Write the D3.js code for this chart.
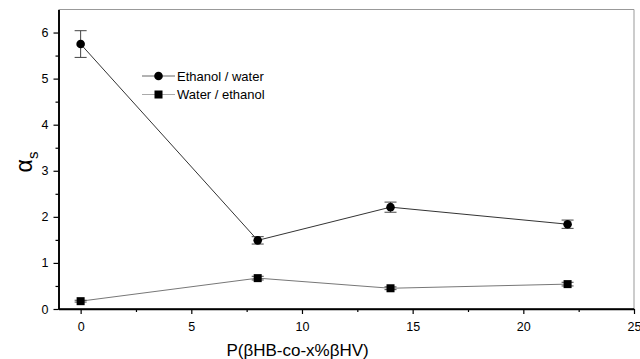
<!DOCTYPE html>
<html><head><meta charset="utf-8">
<script src="https://cdn.jsdelivr.net/npm/d3@7"></script>
<style>body{margin:0;background:#fff}svg{display:block}text{font-family:"Liberation Sans",Arial,sans-serif}</style>
</head><body>
<svg id="c" width="640" height="359"></svg>
<script>
const xValues = [0, 8, 14, 22];
const ethanolWater = [5.75, 1.49, 2.21, 1.84];
const ethanolWaterErr = [0.29, 0.08, 0.11, 0.09];
const waterEthanol = [0.17, 0.67, 0.45, 0.54];
const waterEthanolErr = [0.02, 0.04, 0.03, 0.04];
const xTicks = [0, 5, 10, 15, 20, 25];
const yTicks = [0, 1, 2, 3, 4, 5, 6];
const seriesNames = ["Ethanol / water", "Water / ethanol"];

const svg = d3.select("#c");
const x = d3.scaleLinear().domain([-1, 25]).range([58.5, 634]);
const y = d3.scaleLinear().domain([0, 6.5]).range([309, 9.5]);

// frame (top and right)
svg.append("path").attr("d", `M${x(-1)},${y(6.5)}H${x(25)}V${y(0)}`)
  .attr("fill", "none").attr("stroke", "#999").attr("stroke-width", 1);

// x axis
const xAx = svg.append("g").attr("transform", `translate(0,${y(0)})`)
  .call(d3.axisBottom(x).tickValues(xTicks).tickFormat(d3.format("d")).tickSize(5).tickPadding(8).tickSizeOuter(0));
const xMinor = svg.append("g").attr("transform", `translate(0,${y(0)})`)
  .call(d3.axisBottom(x).tickValues(d3.range(2.5, 25, 5)).tickSize(3).tickFormat("").tickSizeOuter(0));
// y axis
const yAx = svg.append("g").attr("transform", `translate(${x(-1)},0)`)
  .call(d3.axisLeft(y).tickValues(yTicks).tickFormat(d3.format("d")).tickSize(5).tickPadding(5).tickSizeOuter(0));
const yMinor = svg.append("g").attr("transform", `translate(${x(-1)},0)`)
  .call(d3.axisLeft(y).tickValues(d3.range(0.5, 6.5, 1)).tickSize(3).tickFormat("").tickSizeOuter(0));
[xAx, xMinor, yAx, yMinor].forEach(g => {
  g.select(".domain").attr("stroke", "#000").attr("stroke-width", 1.6);
  g.selectAll(".tick line").attr("stroke", "#000").attr("stroke-width", 1.2);
  g.selectAll("text").attr("font-size", 12.5).attr("fill", "#000")
    .style("font-family", '"Liberation Sans",Arial,sans-serif');
});
xAx.select(".domain").attr("d", `M${x(-1)},0H${x(25)}`);

// axis labels
svg.append("text").attr("x", x(9.8)).attr("y", 356).attr("text-anchor", "middle")
  .attr("font-size", 17).text("P(βHB-co-x%βHV)");
const yl = svg.append("text").attr("transform", "translate(32,162) rotate(-90)")
  .attr("text-anchor", "middle").attr("font-size", 23);
yl.append("tspan").text("α");
yl.append("tspan").attr("font-size", 15).attr("dy", 6).text("s");

const line = d3.line().x((d, i) => x(xValues[i])).y(d => y(d));
const series = [
  {v: ethanolWater, e: ethanolWaterErr, color: "#333", shape: "circle"},
  {v: waterEthanol, e: waterEthanolErr, color: "#777", shape: "square"}
];
series.forEach(s => {
  svg.append("path").datum(s.v).attr("d", line).attr("fill", "none")
    .attr("stroke", s.color).attr("stroke-width", 1);
  s.v.forEach((v, i) => {
    const cx = x(xValues[i]);
    const g = svg.append("g").attr("stroke", "#444").attr("stroke-width", 1);
    g.append("line").attr("x1", cx).attr("x2", cx).attr("y1", y(v - s.e[i])).attr("y2", y(v + s.e[i]));
    g.append("line").attr("x1", cx - 6).attr("x2", cx + 6).attr("y1", y(v - s.e[i])).attr("y2", y(v - s.e[i]));
    g.append("line").attr("x1", cx - 6).attr("x2", cx + 6).attr("y1", y(v + s.e[i])).attr("y2", y(v + s.e[i]));
    if (s.shape === "circle")
      svg.append("circle").attr("cx", cx).attr("cy", y(v)).attr("r", 4.3).attr("fill", "#000");
    else
      svg.append("rect").attr("x", cx - 4).attr("y", y(v) - 4).attr("width", 8).attr("height", 8).attr("fill", "#000");
  });
});

// legend
const lg = svg.append("g");
seriesNames.forEach((name, i) => {
  const ly = 76 + i * 18.5;
  lg.append("line").attr("x1", 142).attr("x2", 175).attr("y1", ly).attr("y2", ly)
    .attr("stroke", i === 0 ? "#666" : "#aaa").attr("stroke-width", 1);
  if (i === 0) lg.append("circle").attr("cx", 158.5).attr("cy", ly).attr("r", 4.3).attr("fill", "#000");
  else lg.append("rect").attr("x", 154.5).attr("y", ly - 4).attr("width", 8).attr("height", 8).attr("fill", "#000");
  lg.append("text").attr("x", 177).attr("y", ly + 4.5).attr("font-size", 13).text(name);
});
</script>
</body></html>
